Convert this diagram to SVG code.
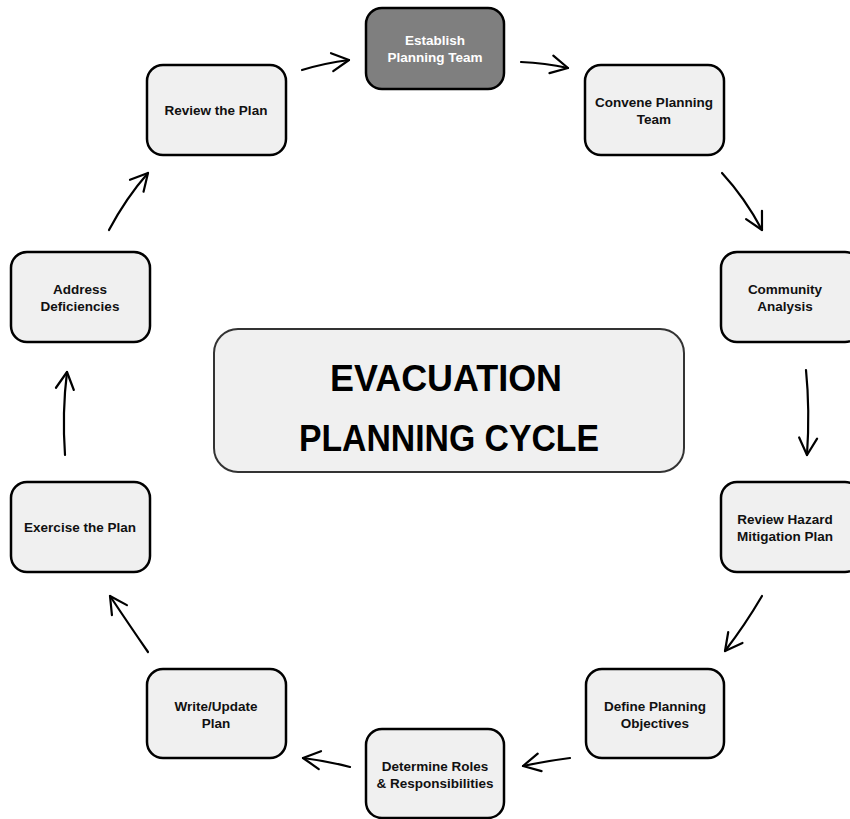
<svg xmlns="http://www.w3.org/2000/svg" width="850" height="819" viewBox="0 0 850 819">
<defs>
<style>
.box{fill:#f0f0f0;stroke:#000;stroke-width:2.5}
.dark{fill:#7f7f7f;stroke:#000;stroke-width:2.5}
.center{fill:#f0f0f0;stroke:#333;stroke-width:2}
.t{font-family:"Liberation Sans",Arial,sans-serif;font-weight:bold;font-size:13.5px;fill:#111;text-anchor:middle}
.tw{fill:#fff}
.big{font-family:"Liberation Sans",Arial,sans-serif;font-weight:bold;font-size:36px;fill:#000;text-anchor:middle}
.c{fill:none;stroke:#000;stroke-width:2.2;stroke-linecap:round}
</style>
<marker id="ah" viewBox="0 0 24 24" refX="21" refY="12" markerWidth="24" markerHeight="24" markerUnits="userSpaceOnUse" orient="auto">
<path d="M4,3 L21,12 L4,21" fill="none" stroke="#000" stroke-width="2.2" stroke-linecap="round" stroke-linejoin="round"/>
</marker>
</defs>
<rect width="850" height="819" fill="#fff"/>
<g id="connectors">
<path class="c" marker-end="url(#ah)" d="M302,70 Q325,63 349,60"/>
<path class="c" marker-end="url(#ah)" d="M521,62 Q545,63 568,68"/>
<path class="c" marker-end="url(#ah)" d="M722,173 Q745,198 762,230"/>
<path class="c" marker-end="url(#ah)" d="M806,370 Q810,410 807,455"/>
<path class="c" marker-end="url(#ah)" d="M762,596 Q745,625 725,651"/>
<path class="c" marker-end="url(#ah)" d="M570,758 Q546,761 523,766"/>
<path class="c" marker-end="url(#ah)" d="M350,767 Q327,761 303,758"/>
<path class="c" marker-end="url(#ah)" d="M148,652 Q130,626 110,596"/>
<path class="c" marker-end="url(#ah)" d="M65,455 Q62,412 67,372"/>
<path class="c" marker-end="url(#ah)" d="M109,230 Q126,198 148,173"/>
</g>
<g id="establish">
<rect class="dark" x="366" y="8" width="138" height="81" rx="16"/>
<text class="t tw" x="435" y="45">Establish</text>
<text class="t tw" x="435" y="62">Planning Team</text>
</g>
<g id="convene">
<rect class="box" x="585" y="65" width="139" height="90" rx="16"/>
<text class="t" x="654" y="107">Convene Planning</text>
<text class="t" x="654" y="124">Team</text>
</g>
<g id="community">
<rect class="box" x="721" y="252" width="140" height="90" rx="16"/>
<text class="t" x="785" y="294">Community</text>
<text class="t" x="785" y="311">Analysis</text>
</g>
<g id="hazard">
<rect class="box" x="721" y="482" width="140" height="90" rx="16"/>
<text class="t" x="785" y="524">Review Hazard</text>
<text class="t" x="785" y="541">Mitigation Plan</text>
</g>
<g id="objectives">
<rect class="box" x="586" y="669" width="138" height="89" rx="16"/>
<text class="t" x="655" y="711">Define Planning</text>
<text class="t" x="655" y="728">Objectives</text>
</g>
<g id="roles">
<rect class="box" x="366" y="729" width="138" height="89" rx="16"/>
<text class="t" x="435" y="771">Determine Roles</text>
<text class="t" x="435" y="788">&amp; Responsibilities</text>
</g>
<g id="write">
<rect class="box" x="147" y="669" width="139" height="89" rx="16"/>
<text class="t" x="216" y="711">Write/Update</text>
<text class="t" x="216" y="728">Plan</text>
</g>
<g id="exercise">
<rect class="box" x="11" y="482" width="139" height="90" rx="16"/>
<text class="t" x="80" y="532">Exercise the Plan</text>
</g>
<g id="address">
<rect class="box" x="11" y="252" width="139" height="90" rx="16"/>
<text class="t" x="80" y="294">Address</text>
<text class="t" x="80" y="311">Deficiencies</text>
</g>
<g id="review">
<rect class="box" x="147" y="65" width="139" height="90" rx="16"/>
<text class="t" x="216" y="115">Review the Plan</text>
</g>
<g id="center">
<rect class="center" x="214" y="329" width="470" height="143" rx="24"/>
<text class="big" x="446" y="391" textLength="232" lengthAdjust="spacingAndGlyphs">EVACUATION</text>
<text class="big" x="449" y="451" textLength="300" lengthAdjust="spacingAndGlyphs">PLANNING CYCLE</text>
</g>
</svg>
